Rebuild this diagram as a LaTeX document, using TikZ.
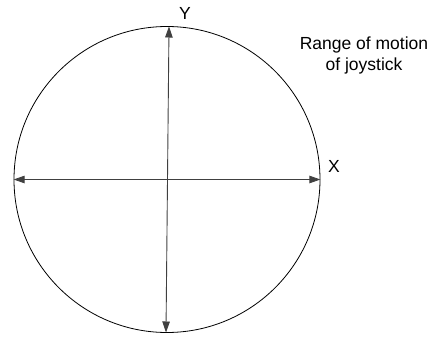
\documentclass[tikz,border=0pt]{standalone}
\usepackage{fontspec}
\setmainfont{Liberation Sans}
\usetikzlibrary{arrows.meta}

\begin{document}
\begin{tikzpicture}[x=1pt,y=-1pt,font=\fontsize{17.5}{21}\selectfont,
        axis/.style={draw=black!75, line width=0.9pt, {Triangle[length=11pt,width=7.5pt]}-{Triangle[length=11pt,width=7.5pt]}}]
        \useasboundingbox (0,0) rectangle (439,337);

        \node (range)[draw, circle, minimum size=306pt, inner sep=0pt, line width=0.8pt] at (167,179.5) {};
        \coordinate (top) at (169,26.5);
        \coordinate (bottom) at (166,332.5);

        \node (Y) at (185,13.5) {Y};
        \node (X) at (334,166) {X};
        \node (label)[align=center] at (364,55) {Range of motion\\of joystick};

        \draw[axis] (range.west) -- (range.east);
        \draw[axis] (top) -- (bottom);

    \end{tikzpicture}
\end{document}
